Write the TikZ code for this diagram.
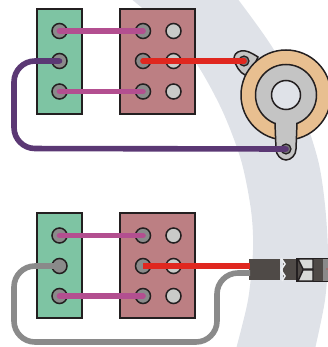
\documentclass[tikz,border=0pt]{standalone}
\usepackage{tikz}
\definecolor{band}{HTML}{DFE2E8}
\definecolor{strip}{HTML}{7EC4A3}
\definecolor{lamp}{HTML}{BC7F83}
\definecolor{mag}{HTML}{B34F90}
\definecolor{red}{HTML}{E0271F}
\definecolor{violet}{HTML}{5B3874}
\definecolor{ash}{HTML}{8A8A8A}
\definecolor{ink}{HTML}{231F20}
\definecolor{slug}{HTML}{4F4A47}
\definecolor{orange}{HTML}{E8BF90}
\definecolor{metal}{HTML}{C4C4C4}
\definecolor{pale}{HTML}{C9CAC8}

\begin{document}
\begin{tikzpicture}[x=1pt,y=-1pt,
		block/.style={rectangle,draw=ink,line width=1.6pt,inner sep=0,minimum height=105pt},
		pin/.style={circle,draw=ink,line width=1.5pt,fill=ash,inner sep=0,minimum size=15pt},
		palepin/.style={pin,fill=pale},
		wire/.style={line width=5.6pt,line cap=round,mag}]
			\useasboundingbox (0,0) rectangle (328,347);
			% background band
			\fill[band] plot[smooth] coordinates {(130,-2) (165,28) (196,63) (222,110) (241,160) (251,210) (253,250) (248,300) (236,349)}
				-- plot[smooth] coordinates {(315,349) (325,300) (328,255) (325,205) (318,160) (300,105) (274,50) (237,-2)} -- cycle;

			% upper blocks
			\node[block,fill=strip,minimum width=45pt] (stripa) at (59.5,61.5) {};
			\node[block,fill=lamp,minimum width=75pt] (lampa) at (157.5,61.5) {};
			\node[pin] (a1) at (59.5,31) {};
			\node[pin] (a2) at (59.5,61) {};
			\node[pin] (a3) at (59.5,91.5) {};
			\node[pin] (b1) at (143,31) {};
			\node[pin] (b2) at (143,61) {};
			\node[pin] (b3) at (143,91.5) {};
			\node[palepin] (c1) at (173.5,31) {};
			\node[palepin] (c2) at (173.5,61) {};
			\node[palepin] (c3) at (173.5,91.5) {};

			% lower blocks
			\node[block,fill=strip,minimum width=45pt] (stripb) at (59.5,265.5) {};
			\node[block,fill=lamp,minimum width=75pt] (lampb) at (157.5,265.5) {};
			\node[pin] (d1) at (59.5,235.5) {};
			\node[pin] (d2) at (59.5,266) {};
			\node[pin] (d3) at (59.5,296) {};
			\node[pin] (e1) at (143,235.5) {};
			\node[pin] (e2) at (143,266) {};
			\node[pin] (e3) at (143,296) {};
			\node[palepin] (f1) at (173.5,235.5) {};
			\node[palepin] (f2) at (173.5,266) {};
			\node[palepin] (f3) at (173.5,296) {};

			% pot
			\fill[metal,draw=ink,line width=1.5pt] (258,57) .. controls (250,52) and (246,50) .. (241,51)
				.. controls (236,52) and (234,55) .. (234,59) .. controls (235,65) and (240,73) .. (245,75) -- (252,70) -- cycle;
			\node[circle,draw=ink,line width=1.5pt,fill=orange,inner sep=0,minimum size=90pt] (pot) at (286,95) {};
			\node[circle,draw=ink,line width=1.5pt,fill=metal,inner sep=0,minimum size=61pt] (ring) at (286,95) {};
			\fill[metal,draw=ink,line width=1.5pt] (297,123) -- (296,149) .. controls (296,155) and (291,160) .. (286,160)
				.. controls (281,160) and (276,155) .. (276,149) -- (275,123);
			\fill[metal] (276,115) rectangle (296,130);
			\node[circle,draw=ink,line width=1.5pt,fill=band,inner sep=0,minimum size=29pt] (hole) at (286,95) {};
			\node[circle,draw=ink,line width=1.2pt,fill=ash!85!black,inner sep=0,minimum size=10pt] (luga) at (244,61) {};
			\node[circle,draw=ink,line width=1.2pt,fill=ash!85!black,inner sep=0,minimum size=10pt] (lugb) at (286,149) {};

			% plug
			\node[rectangle,fill=slug,inner sep=0,minimum width=31pt,minimum height=21pt] (sleeve) at (264.5,269.5) {};
			\node[rectangle,fill=slug,inner sep=0,minimum width=15pt,minimum height=21pt] (neck) at (290,269.5) {};
			\node[rectangle,fill=slug,draw=ink,line width=1.2pt,inner sep=0,minimum width=34pt,minimum height=23pt] (barrel) at (314,270) {};
			\fill[ash] (323,259) rectangle (329,281);
			\fill[red] (327,269) circle (0.6);
			\fill[pale!70!white,draw=ink,line width=1.4pt] (298,259) -- (313,259) -- (313,269) -- (303,269) -- cycle;
			\fill[pale!70!white,draw=ink,line width=1.4pt] (298,281) -- (313,281) -- (313,270) -- (303,270) -- cycle;
			\draw[band!60!white,line width=1.6pt] (281,258) -- (285,264) -- (281,270) -- (285,276) -- (282,281);

			% wires
			\coordinate (ends) at (250,266);
			\coordinate (endg) at (250,273);
			\draw[wire] (a1.center) -- (b1.center);
			\draw[wire] (a3.center) -- (b3.center);
			\draw[wire] (d1.center) -- (e1.center);
			\draw[wire] (d3.center) -- (e3.center);
			\draw[wire,red] (b2.center) -- (luga.center);
			\draw[wire,red,line cap=butt] (e2.center) -- (ends);
			\draw[wire,violet,rounded corners=21pt] (a2.center) -- (14,61) -- (14,148.5) -- (lugb.center);
			\draw[wire,ash,line cap=butt,rounded corners=21pt] (d2.center) -- (14,266) -- (14,342) -- (217,342) -- (217,273) -- (endg);
		\end{tikzpicture}
\end{document}
